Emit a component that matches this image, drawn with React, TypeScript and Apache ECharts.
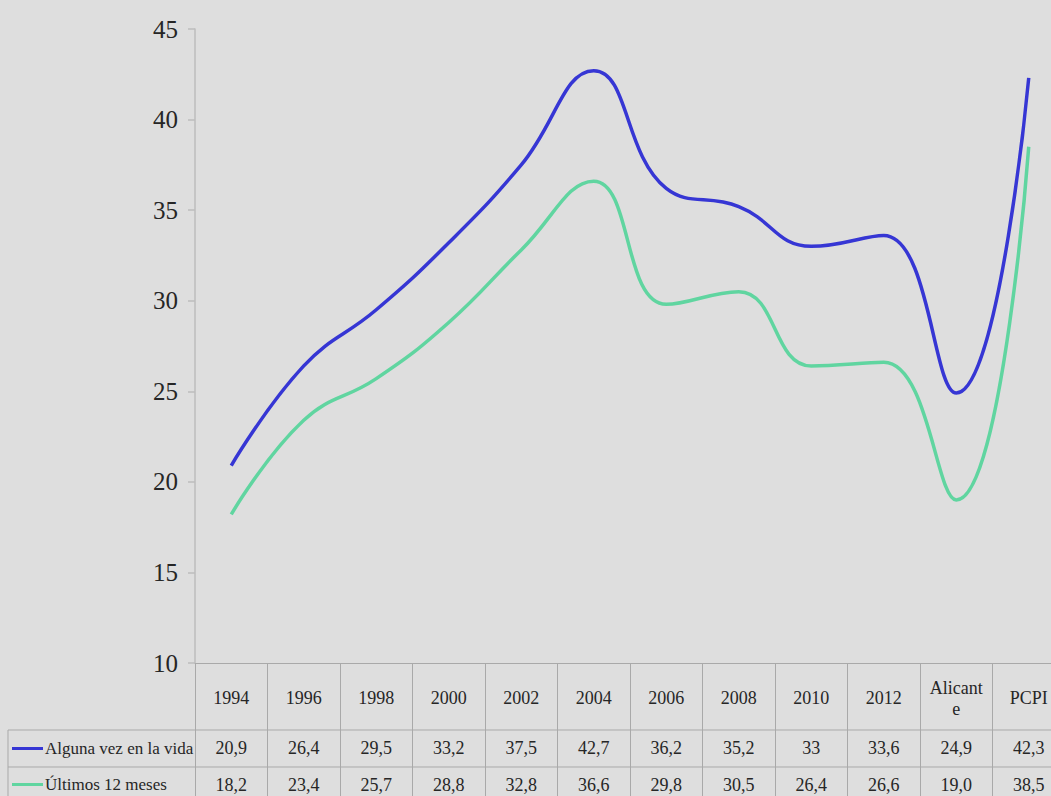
import React, { useEffect, useRef } from "react";
import * as echarts from "echarts";

const categories = ["1994", "1996", "1998", "2000", "2002", "2004", "2006", "2008", "2010", "2012", "Alicante", "PCPI"];
const algunaLabels = ["20,9", "26,4", "29,5", "33,2", "37,5", "42,7", "36,2", "35,2", "33", "33,6", "24,9", "42,3"];
const ultimosLabels = ["18,2", "23,4", "25,7", "28,8", "32,8", "36,6", "29,8", "30,5", "26,4", "26,6", "19,0", "38,5"];
const seriesNames = ["Alguna vez en la vida", "Últimos 12 meses"];
const yMin = 10;
const yMax = 45;
const yStep = 5;

const toNum = (s: string) => parseFloat(s.replace(",", "."));
const algunaValues = algunaLabels.map(toNum);
const ultimosValues = ultimosLabels.map(toNum);

const FONT = "Times New Roman, Liberation Serif, serif";
const TEXT = "#262626";
const TABLE_LINE = "#a9a9a9";
const BLUE = "#3636d4";
const GREEN = "#60d5a0";

export default function App() {
  const ref = useRef<HTMLDivElement>(null);
  useEffect(() => {
    if (!ref.current) return;
    const chart = echarts.init(ref.current, null, { renderer: "svg" });
    const gridLeft = 195;
    const gridTop = 29;
    const axisY = 663;
    const row1 = 730;
    const row2 = 767;
    const legendText = { fontFamily: FONT, fontSize: 17, color: TEXT, padding: [0, 0, 0, -3] };
    chart.setOption({
      animation: false,
      backgroundColor: "#dedede",
      grid: { left: gridLeft, top: gridTop, width: 870, height: axisY - gridTop },
      legend: [
        {
          data: [seriesNames[0]],
          left: 12,
          top: 740,
          padding: 0,
          icon: "rect",
          itemWidth: 31,
          itemHeight: 3,
          selectedMode: false,
          textStyle: legendText,
        },
        {
          data: [seriesNames[1]],
          left: 12,
          top: 776,
          padding: 0,
          icon: "rect",
          itemWidth: 31,
          itemHeight: 3,
          selectedMode: false,
          textStyle: legendText,
        },
      ],
      xAxis: [
        {
          type: "category",
          data: categories,
          position: "bottom",
          boundaryGap: true,
          axisLine: { show: true, lineStyle: { color: TABLE_LINE, width: 1 } },
          axisTick: { show: true, length: 140, lineStyle: { color: TABLE_LINE, width: 1 } },
          axisLabel: {
            fontFamily: FONT,
            fontSize: 18,
            color: TEXT,
            margin: 35,
            verticalAlign: "middle",
            lineHeight: 21,
            interval: 0,
            formatter: (v: string) => (v === "Alicante" ? "Alicant\ne" : v),
          },
          splitLine: { show: false },
        },
        {
          type: "category",
          data: algunaLabels,
          position: "bottom",
          offset: row1 - axisY,
          boundaryGap: true,
          axisLine: { show: false },
          axisTick: { show: false },
          axisLabel: { fontFamily: FONT, fontSize: 18, color: TEXT, margin: 18, verticalAlign: "middle", interval: 0 },
          splitLine: { show: false },
        },
        {
          type: "category",
          data: ultimosLabels,
          position: "bottom",
          offset: row2 - axisY,
          boundaryGap: true,
          axisLine: { show: false },
          axisTick: { show: false },
          axisLabel: { fontFamily: FONT, fontSize: 18, color: TEXT, margin: 18, verticalAlign: "middle", interval: 0 },
          splitLine: { show: false },
        },
      ],
      yAxis: {
        type: "value",
        min: yMin,
        max: yMax,
        interval: yStep,
        axisLine: { show: true, lineStyle: { color: "#bcbcbc", width: 1.5 } },
        axisTick: { show: true, length: 7, lineStyle: { color: "#bcbcbc", width: 1.5 } },
        axisLabel: { fontFamily: FONT, fontSize: 25, color: TEXT, margin: 17 },
        splitLine: { show: false },
      },
      graphic: [
        { type: "line", shape: { x1: 8, y1: row1, x2: 1080, y2: row1 }, style: { stroke: TABLE_LINE, lineWidth: 1 } },
        { type: "line", shape: { x1: 8, y1: row2, x2: 1080, y2: row2 }, style: { stroke: TABLE_LINE, lineWidth: 1 } },
        { type: "line", shape: { x1: 8, y1: row1, x2: 8, y2: 796 }, style: { stroke: TABLE_LINE, lineWidth: 1 } },
      ],
      series: [
        {
          name: seriesNames[0],
          type: "line",
          data: algunaValues,
          smooth: 0.45,
          symbol: "none",
          color: BLUE,
          lineStyle: { color: BLUE, width: 3.5 },
        },
        {
          name: seriesNames[1],
          type: "line",
          data: ultimosValues,
          smooth: 0.45,
          symbol: "none",
          color: GREEN,
          lineStyle: { color: GREEN, width: 3.5 },
        },
      ],
    });
    return () => chart.dispose();
  }, []);
  return (
    <div style={{ position: "absolute", left: 0, top: 0, width: 1051, height: 796, overflow: "hidden" }}>
      <div ref={ref} style={{ width: 1080, height: 796 }} />
    </div>
  );
}
